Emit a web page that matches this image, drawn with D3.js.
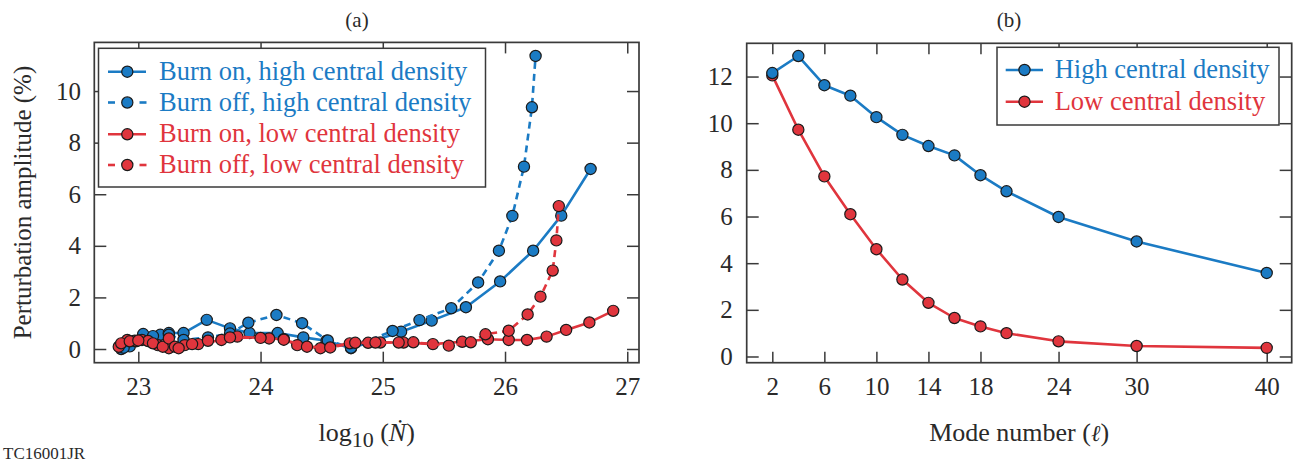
<!DOCTYPE html>
<html><head><meta charset="utf-8">
<script src="https://cdn.jsdelivr.net/npm/d3@7"></script>
<style>
html,body{margin:0;padding:0;background:#fff;}
svg text{font-family:"Liberation Serif","Times New Roman",serif;}
</style></head>
<body><svg id="c" width="1293" height="466"></svg>
<script>
// ---------- DATA ----------
// Panel (a): log10(Ndot) vs perturbation amplitude (%)
const burnOnHighX  = [22.86,22.93,23.04,23.18,23.25,23.37,23.56,23.75,23.91,24.14,24.35,24.54,24.74,25.15,25.40,25.68,25.96,26.23,26.46,26.70];
const burnOnHighY  = [0.00,0.10,0.58,0.55,0.62,0.62,1.13,0.80,0.62,0.62,0.45,0.32,0.03,0.67,1.10,1.62,2.62,3.81,5.17,6.98];
const burnOffHighX = [22.88,22.98,23.12,23.25,23.37,23.57,23.75,23.90,24.13,24.34,24.55,24.74,25.08,25.30,25.56,25.78,25.95,26.06,26.155,26.22,26.25];
const burnOffHighY = [0.05,0.30,0.50,0.55,0.35,0.45,0.60,1.02,1.32,1.00,0.33,0.05,0.70,1.12,1.58,2.58,3.81,5.16,7.07,9.37,11.36];
const burnOnLowX   = [22.84,22.91,22.97,23.03,23.08,23.16,23.25,23.38,23.49,23.68,23.81,24.07,24.19,24.30,24.49,24.73,24.88,24.98,25.17,25.41,25.65,25.86,26.03,26.18,26.34,26.50,26.69,26.885];
const burnOnLowY   = [0.09,0.35,0.32,0.35,0.31,0.15,0.03,0.15,0.19,0.35,0.48,0.41,0.38,0.15,0.03,0.22,0.24,0.25,0.25,0.19,0.28,0.38,0.35,0.35,0.48,0.74,1.03,1.48];
const burnOffLowX  = [22.86,22.93,23.00,23.12,23.20,23.25,23.30,23.33,23.44,23.57,23.75,24.00,24.19,24.38,24.57,24.775,24.94,25.13,25.25,25.54,25.72,25.84,26.03,26.185,26.29,26.39,26.42,26.44];
const burnOffLowY  = [0.22,0.30,0.33,0.22,0.09,0.41,0.09,0.03,0.19,0.32,0.45,0.43,0.36,0.09,0.06,0.24,0.25,0.25,0.26,0.13,0.26,0.57,0.71,1.34,2.03,3.04,4.21,5.54];
const aXTicks = [23,24,25,26,27];
const aYTicks = [0,2,4,6,8,10];
const aLegend = ["Burn on, high central density","Burn off, high central density","Burn on, low central density","Burn off, low central density"];

// Panel (b): mode number vs amplitude
const modeNumbers = [2,4,6,8,10,12,14,16,18,20,24,30,40];
const highDensity = [12.15,12.88,11.63,11.18,10.26,9.50,9.02,8.62,7.77,7.08,5.98,4.93,3.58];
const lowDensity  = [12.05,9.72,7.72,6.10,4.60,3.30,2.30,1.65,1.29,1.00,0.65,0.45,0.37];
const bXTicks = [2,6,10,14,18,24,30,40];
const bYTicks = [0,2,4,6,8,10,12];
const bLegend = ["High central density","Low central density"];

// ---------- STYLE ----------
const BLUE = "#1b7bc4", RED = "#e0353d", INK = "#2a2a2a", FRAME = "#3a3a3a";
const svg = d3.select("#c");

function frameAxes(g, x, y, xt, yt, box, padX, padY){
  const ax = d3.axisBottom(x).tickValues(xt).tickSizeInner(-11).tickSizeOuter(0).tickPadding(padX).tickFormat(d3.format("d"));
  const gx = g.append("g").attr("transform",`translate(0,${box.b})`).call(ax);
  const at = d3.axisTop(x).tickValues(xt).tickSizeInner(-11).tickSizeOuter(0).tickFormat("");
  const gt = g.append("g").attr("transform",`translate(0,${box.t})`).call(at);
  const ay = d3.axisLeft(y).tickValues(yt).tickSizeInner(-12).tickSizeOuter(0).tickPadding(padY).tickFormat(d3.format("d"));
  const gy = g.append("g").attr("transform",`translate(${box.l},0)`).call(ay);
  const ar = d3.axisRight(y).tickValues(yt).tickSizeInner(-12).tickSizeOuter(0).tickFormat("");
  const gr = g.append("g").attr("transform",`translate(${box.r},0)`).call(ar);
  [gx,gt,gy,gr].forEach(s=>{
    s.select(".domain").remove();
    s.selectAll("line").attr("stroke",FRAME).attr("stroke-width",1.5);
    s.selectAll("text").attr("fill",INK).style("font-size","25px").attr("font-family","Liberation Serif, Times New Roman, serif");
  });
  g.append("rect").attr("x",box.l).attr("y",box.t).attr("width",box.r-box.l).attr("height",box.b-box.t)
    .attr("fill","none").attr("stroke",FRAME).attr("stroke-width",1.7);
}

function series(g, x, y, xs, ys, color, dashed){
  const pts = xs.map((d,i)=>[d,ys[i]]);
  const line = d3.line().x(d=>x(d[0])).y(d=>y(d[1]));
  g.append("path").attr("d",line(pts)).attr("fill","none").attr("stroke",color)
    .attr("stroke-width",2.6).attr("stroke-dasharray",dashed?"7,5":null).attr("stroke-linejoin","round");
  g.selectAll(null).data(pts).enter().append("circle")
    .attr("cx",d=>x(d[0])).attr("cy",d=>y(d[1])).attr("r",5.6)
    .attr("fill",color).attr("stroke","#1a1a1a").attr("stroke-width",1.2);
}

// ---------- PANEL (a) ----------
const A = {l:94.3, r:639, t:42.4, b:362.7};
const xA = d3.scaleLinear().domain([22.64,27.096]).range([A.l,A.r]);
const yA = d3.scaleLinear().domain([-0.531,11.886]).range([A.b,A.t]);
const gA = svg.append("g");
frameAxes(gA, xA, yA, aXTicks, aYTicks, A, 14.5, 13.3);
series(gA,xA,yA,burnOnHighX,burnOnHighY,BLUE,false);
series(gA,xA,yA,burnOffHighX,burnOffHighY,BLUE,true);
series(gA,xA,yA,burnOnLowX,burnOnLowY,RED,false);
series(gA,xA,yA,burnOffLowX,burnOffLowY,RED,true);

// legend (a)
const legA = gA.append("g");
legA.append("rect").attr("x",98.5).attr("y",48.3).attr("width",387).attr("height",138.7)
  .attr("fill","#fff").attr("stroke",FRAME).attr("stroke-width",1.5);
const legAcol = [BLUE,BLUE,RED,RED], legAdash=[false,true,false,true], legAy=[71.7,102.5,134.3,165];
aLegend.forEach((t,i)=>{
  const yy = legAy[i];
  if(legAdash[i]){
    legA.append("line").attr("x1",108).attr("x2",115).attr("y1",yy).attr("y2",yy).attr("stroke",legAcol[i]).attr("stroke-width",2.6);
    legA.append("line").attr("x1",139.5).attr("x2",146.5).attr("y1",yy).attr("y2",yy).attr("stroke",legAcol[i]).attr("stroke-width",2.6);
  } else {
    legA.append("line").attr("x1",108).attr("x2",146).attr("y1",yy).attr("y2",yy).attr("stroke",legAcol[i]).attr("stroke-width",2.6);
  }
  legA.append("circle").attr("cx",127.3).attr("cy",yy).attr("r",5.6).attr("fill",legAcol[i]).attr("stroke","#1a1a1a").attr("stroke-width",1.2);
  legA.append("text").attr("x",159).attr("y",yy+8).attr("fill",legAcol[i]).style("font-size","26.5px").text(t);
});

// ---------- PANEL (b) ----------
const B = {l:746.7, r:1291.7, t:43.3, b:362.7};
const xB = d3.scaleLinear().domain([0.032,41.92]).range([B.l,B.r]);
const yB = d3.scaleLinear().domain([-0.266,13.425]).range([B.b,B.t]);
const gB = svg.append("g");
frameAxes(gB, xB, yB, bXTicks, bYTicks, B, 14.5, 14);
series(gB,xB,yB,modeNumbers,lowDensity,RED,false);
series(gB,xB,yB,modeNumbers,highDensity,BLUE,false);

const legB = gB.append("g");
legB.append("rect").attr("x",997).attr("y",47.3).attr("width",282).attr("height",77.7)
  .attr("fill","#fff").attr("stroke",FRAME).attr("stroke-width",1.5);
const legBcol=[BLUE,RED], legBy=[70,101.7];
bLegend.forEach((t,i)=>{
  const yy=legBy[i];
  legB.append("line").attr("x1",1005.7).attr("x2",1043).attr("y1",yy).attr("y2",yy).attr("stroke",legBcol[i]).attr("stroke-width",2.6);
  legB.append("circle").attr("cx",1024.5).attr("cy",yy).attr("r",5.6).attr("fill",legBcol[i]).attr("stroke","#1a1a1a").attr("stroke-width",1.2);
  legB.append("text").attr("x",1054.7).attr("y",yy+8).attr("fill",legBcol[i]).style("font-size","26.5px").text(t);
});

// ---------- TITLES / LABELS ----------
svg.append("text").attr("x",357).attr("y",27).attr("text-anchor","middle").attr("fill",INK).style("font-size","21px").text("(a)");
svg.append("text").attr("x",1009).attr("y",27).attr("text-anchor","middle").attr("fill",INK).style("font-size","21px").text("(b)");

svg.append("text").attr("transform",`translate(31,${(A.t+A.b)/2}) rotate(-90)`).attr("text-anchor","middle")
  .attr("fill",INK).style("font-size","25px").text("Perturbation amplitude (%)");

const xl = svg.append("text").attr("x",(A.l+A.r)/2).attr("y",441).attr("text-anchor","middle").attr("fill",INK).style("font-size","26px");
xl.append("tspan").text("log");
xl.append("tspan").attr("dy",6).style("font-size","22px").text("10");
xl.append("tspan").attr("dy",-6).text(" (");
xl.append("tspan").style("font-style","italic").text("\u1E44");
xl.append("tspan").text(")");

const bl = svg.append("text").attr("x",(B.l+B.r)/2).attr("y",441).attr("text-anchor","middle").attr("fill",INK).style("font-size","26px");
bl.append("tspan").text("Mode number (");
bl.append("tspan").style("font-family","'DejaVu Serif', serif").style("font-style","italic").style("font-size","23px").text("\u2113");
bl.append("tspan").text(")");

svg.append("text").attr("x",3).attr("y",459).attr("fill",INK).style("font-size","17px").text("TC16001JR");
</script></body></html>
